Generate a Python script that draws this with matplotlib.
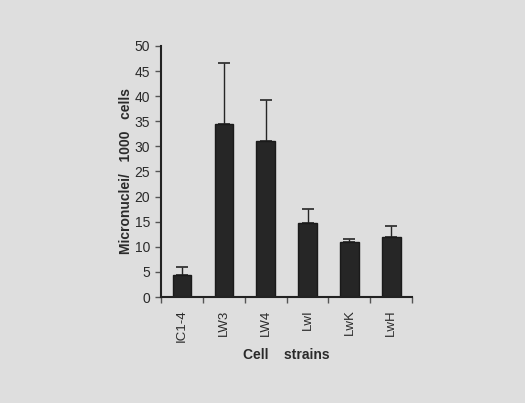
import matplotlib
matplotlib.use("Agg")
import matplotlib.pyplot as plt
import numpy as np

# data
strains = ["IC1-4", "LW3", "LW4", "LwI", "LwK", "LwH"]
means = [4.3, 34.4, 31.1, 14.7, 10.9, 11.9]
upper = [6.0, 46.6, 39.2, 17.6, 11.5, 14.2]
errs = [u - m for u, m in zip(upper, means)]

bg = "#dedede"
plt.rcParams["font.family"] = ["Liberation Sans", "DejaVu Sans"]

fig = plt.figure(figsize=(5.25, 4.03), dpi=100, facecolor=bg)
ax = fig.add_axes([0.307, 0.263, 0.478, 0.623], facecolor=bg)

x = np.arange(len(strains))
ax.bar(x, means, width=0.45, color="#262626", edgecolor="#1a1a1a", zorder=2)
ax.errorbar(x, means, yerr=[np.zeros(len(errs)), errs], fmt="none",
            ecolor="#262626", elinewidth=1.0, capsize=4.5, capthick=1.2, zorder=1)

ax.set_xlim(-0.5, len(strains) - 0.5)
ax.set_ylim(0, 50)
ax.set_yticks(np.arange(0, 51, 5))
ax.set_xticks(x)
ax.set_xticklabels(strains, rotation=90, fontsize=9.5, color="#2a2a2a")
ax.set_xticks(np.arange(-0.5, len(strains)), minor=True)
ax.tick_params(axis="x", which="major", length=0, pad=9)
ax.tick_params(axis="x", which="minor", direction="out", length=4, width=1, color="#555555")
ax.tick_params(axis="y", direction="out", length=4, width=1, color="#555555",
               labelsize=10, labelcolor="#2a2a2a", pad=4)

for s in ["top", "right"]:
    ax.spines[s].set_visible(False)
for s in ["left", "bottom"]:
    ax.spines[s].set_linewidth(1.5)
    ax.spines[s].set_color("#222222")

ax.set_ylabel("Micronuclei/   1000   cells", fontsize=10, fontweight="bold",
              color="#2a2a2a", labelpad=1)
ax.set_xlabel("Cell    strains", fontsize=10, fontweight="bold", color="#2a2a2a",
              labelpad=4)

fig.savefig("out.png", dpi=100, facecolor=bg)
